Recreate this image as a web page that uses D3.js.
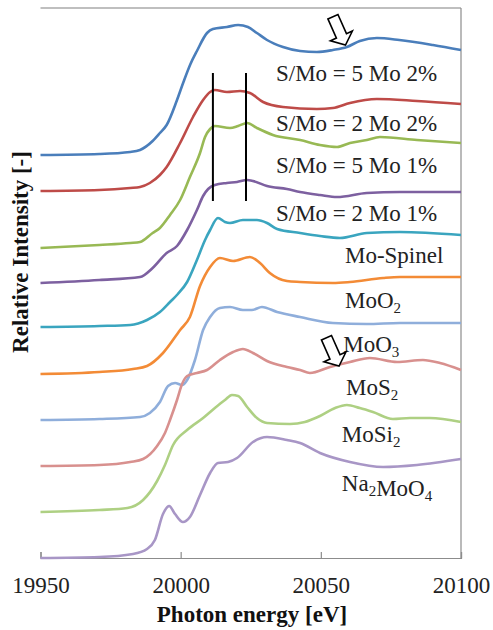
<!DOCTYPE html>
<html>
<head>
<meta charset="utf-8">
<script src="https://cdn.jsdelivr.net/npm/d3@7"></script>
<style>
  body { margin: 0; background: #fff; }
  svg text { font-family: "Liberation Serif", "Times New Roman", Times, serif; }
</style>
</head>
<body>
<svg id="chart" width="493" height="630"></svg>
<script>
// spectra: [photon energy eV, stacked relative intensity]
var s5Mo2 = [[19950,8.06],[19971,8.08],[19982,8.12],[19985.5,8.16],[19990,8.34],[19992.6,8.5],[19995,8.66],[19998.7,9.16],[20001,9.52],[20003.5,9.88],[20005.8,10.14],[20009.4,10.5],[20011.5,10.58],[20016.5,10.62],[20020.5,10.66],[20024,10.62],[20027.2,10.5],[20030.8,10.36],[20036.5,10.22],[20042.6,10.14],[20048.6,10.12],[20054.3,10.16],[20059.3,10.22],[20063.9,10.34],[20070,10.4],[20078,10.36],[20090,10.26],[20100,10.16]];
var s2Mo2 = [[19950,7.34],[19971,7.36],[19982,7.4],[19985.5,7.42],[19989,7.5],[19992.6,7.66],[19995,7.82],[19999.8,8.3],[20004.4,8.82],[20008,9.16],[20010.5,9.32],[20012.2,9.36],[20016.5,9.32],[20021.2,9.34],[20024.7,9.3],[20029.4,9.12],[20036.5,9.02],[20048.6,8.98],[20054.3,9.0],[20060.4,9.1],[20070,9.18],[20084.3,9.14],[20100,9.08]];
var s5Mo1 = [[19950,6.2],[19971,6.26],[19982,6.3],[19985.5,6.32],[19990,6.5],[19992.6,6.6],[19996.2,6.86],[19999.8,7.16],[20003.3,7.62],[20006.9,8.1],[20008.7,8.42],[20010.5,8.58],[20012.2,8.64],[20017.6,8.6],[20020.5,8.64],[20023.7,8.7],[20027.2,8.6],[20032.9,8.46],[20042.6,8.36],[20049.7,8.26],[20055.8,8.22],[20060.4,8.3],[20066.4,8.36],[20071.1,8.42],[20084.3,8.36],[20100,8.3]];
var s2Mo1 = [[19950,5.5],[19971,5.56],[19985.5,5.62],[19990,5.8],[19995,6.1],[19998.7,6.24],[20002.3,6.56],[20005.8,6.96],[20008,7.24],[20009.8,7.38],[20012.2,7.46],[20016.5,7.5],[20020.1,7.52],[20023.7,7.56],[20025.8,7.54],[20030.8,7.44],[20037.9,7.38],[20042.6,7.32],[20049.7,7.26],[20055.8,7.22],[20066.4,7.3],[20078.2,7.32],[20100,7.32]];
var spinel = [[19950,4.62],[19971,4.64],[19982,4.66],[19988,4.76],[19992.6,4.92],[19996.2,5.12],[19999,5.28],[20002.3,5.52],[20005.8,5.96],[20008.7,6.36],[20010.5,6.56],[20013.3,6.8],[20015.8,6.72],[20017.6,6.7],[20022.2,6.76],[20027.2,6.76],[20030.8,6.7],[20034.4,6.58],[20042.6,6.5],[20049.7,6.44],[20056.8,6.4],[20066.4,6.5],[20078.2,6.52],[20100,6.46]];
var moO2 = [[19950,3.68],[19971,3.72],[19983,3.78],[19988,3.84],[19993.7,4.1],[19999.8,4.56],[20003.3,4.82],[20006.9,5.44],[20010.5,5.82],[20014,6.0],[20018.7,5.94],[20024.7,6.02],[20028.3,5.9],[20031.8,5.7],[20037.9,5.54],[20042.6,5.52],[20054.3,5.5],[20060.4,5.52],[20072.2,5.6],[20078.2,5.62],[20100,5.62]];
var moO3 = [[19950,2.76],[19971,2.78],[19985.5,2.82],[19989,2.9],[19992.6,3.12],[19995.5,3.44],[19998,3.5],[20000.5,3.46],[20002.3,3.56],[20005.1,3.96],[20008,4.56],[20010.5,4.82],[20014,5.0],[20017.6,5.02],[20022.2,4.96],[20025.4,4.96],[20029,5.02],[20034.4,4.92],[20042.6,4.82],[20054.3,4.7],[20066.4,4.68],[20078.2,4.7],[20100,4.7]];
var moS2 = [[19950,1.84],[19971,1.86],[19982,1.92],[19986.6,1.98],[19991.6,2.24],[19994.4,2.5],[19996.2,2.76],[19998.7,3.16],[20000.5,3.48],[20002.3,3.64],[20005.8,3.7],[20009.4,3.76],[20014,3.96],[20018.7,4.12],[20022.2,4.18],[20025.8,4.1],[20030.8,3.94],[20037.9,3.82],[20042.6,3.76],[20046.1,3.7],[20053.3,3.82],[20060.4,3.92],[20067.5,4.0],[20077.2,3.92],[20086.4,3.96],[20092.5,3.9],[20100,3.76]];
var moSi2 = [[19950,0.92],[19971,0.96],[19981,1.0],[19986.6,1.16],[19991.6,1.54],[19994.4,1.86],[19997.3,2.26],[20002.3,2.56],[20008,2.8],[20012.2,3.0],[20015.8,3.16],[20018.3,3.26],[20020.5,3.24],[20023.7,3.02],[20027.2,2.8],[20030.8,2.7],[20039,2.68],[20044.3,2.72],[20049.7,2.84],[20055.1,3.0],[20059.3,3.06],[20063.9,3.0],[20068.6,2.92],[20075.7,2.78],[20081.8,2.8],[20088.9,2.8],[20100,2.72]];
var na2MoO4 = [[19950,0.0],[19971,0.02],[19983,0.08],[19988,0.18],[19990.8,0.36],[19993.7,0.88],[19995.9,1.04],[19998,0.88],[20000.8,0.72],[20003.3,0.82],[20006.9,1.26],[20010.5,1.7],[20013.3,1.9],[20016.9,1.92],[20020.1,2.0],[20025.8,2.32],[20030.8,2.42],[20037.9,2.36],[20042.6,2.3],[20049.7,2.1],[20060.4,1.92],[20072.2,1.82],[20084.3,1.86],[20100,1.98]];

var energyTicks = [19950, 20000, 20050, 20100];

// labels: pieces of [text, subscript] and where they sit (energy, baseline intensity)
var labelTexts = [
  [["S/Mo = 5 Mo 2%", ""]],
  [["S/Mo = 2 Mo 2%", ""]],
  [["S/Mo = 5 Mo 1%", ""]],
  [["S/Mo = 2 Mo 1%", ""]],
  [["Mo-Spinel", ""]],
  [["MoO", "2"]],
  [["MoO", "3"]],
  [["MoS", "2"]],
  [["MoSi", "2"]],
  [["Na", "2"], ["MoO", "4"]]
];
var labelE = [20034, 20034, 20034, 20034, 20058.6, 20058.6, 20058, 20059, 20057.5, 20057.5];
var labelI = [9.54, 8.54, 7.7, 6.74, 5.9, 5.0, 4.12, 3.26, 2.32, 1.34];

// two marker lines and two arrows
var markerE = [20011.5, 20023.3];
var markerRange = [7.14, 9.7];
var arrowTips = [[20058.8, 10.26], [20056.5, 3.84]];

var spectra = [s5Mo2, s2Mo2, s5Mo1, s2Mo1, spinel, moO2, moO3, moS2, moSi2, na2MoO4];
var colors = ["#4a7ebb", "#be4b48", "#98b954", "#7d60a0", "#3aa5bf",
              "#f38b36", "#8faedb", "#d8908e", "#aed083", "#a896c6"];

var serif = "Liberation Serif, Times New Roman, serif";
var svg = d3.select("#chart");
var x = d3.scaleLinear().domain([19950, 20100]).range([40.5, 461]);
var y = d3.scaleLinear().domain([0, 11]).range([558, 8]);

// frame: top and right border, bottom axis
svg.append("line").attr("x1", 40.5).attr("x2", 461).attr("y1", 8).attr("y2", 8)
  .attr("stroke", "#aaaaaa").attr("stroke-width", 1.5);
svg.append("line").attr("x1", 461).attr("x2", 461).attr("y1", 8).attr("y2", 558)
  .attr("stroke", "#8c8c8c").attr("stroke-width", 1.2);

var xAxis = svg.append("g")
  .attr("transform", "translate(0,558)")
  .attr("font-family", serif)
  .call(d3.axisBottom(x).tickValues(energyTicks).tickSize(-6).tickFormat(d3.format("d")));
xAxis.attr("font-family", serif);
xAxis.select(".domain").attr("stroke", "#8c8c8c").attr("stroke-width", 1.2);
xAxis.selectAll(".tick line").attr("stroke", "#8c8c8c").attr("stroke-width", 1.2);
xAxis.selectAll(".tick text")
  .attr("font-size", 23)
  .attr("fill", "#222")
  .attr("y", 0).attr("dy", 35);

var line = d3.line()
  .x(function(d) { return x(d[0]); })
  .y(function(d) { return y(d[1]); })
  .curve(d3.curveMonotoneX);

svg.selectAll(".spectrum")
  .data(spectra)
  .enter()
  .append("path")
  .attr("class", "spectrum")
  .attr("d", line)
  .attr("fill", "none")
  .attr("stroke", function(d, i) { return colors[i]; })
  .attr("stroke-width", 2.6)
  .attr("stroke-linejoin", "round");

// black vertical markers
svg.selectAll(".marker")
  .data(markerE)
  .enter()
  .append("line")
  .attr("x1", function(d) { return x(d); })
  .attr("x2", function(d) { return x(d); })
  .attr("y1", y(markerRange[1]))
  .attr("y2", y(markerRange[0]))
  .attr("stroke", "#000")
  .attr("stroke-width", 2);

// labels
labelTexts.forEach(function(parts, i) {
  var t = svg.append("text")
    .attr("x", x(labelE[i]))
    .attr("y", y(labelI[i]))
    .attr("font-family", serif)
    .attr("font-size", 23)
    .attr("fill", "#222");
  parts.forEach(function(p) {
    t.append("tspan").text(p[0]);
    if (p[1]) {
      t.append("tspan").attr("font-size", 15).attr("dy", 5).text(p[1]);
      t.append("tspan").attr("dy", -5).text("");
    }
  });
});

// outlined block arrows pointing down-right
var ang = Math.atan2(27, 12) * 180 / Math.PI - 90;
var arrowShape = [[-5.5, -31], [5.5, -31], [5.5, -10], [12, -10], [0, 0], [-12, -10], [-5.5, -10]];
svg.selectAll(".arrow")
  .data(arrowTips)
  .enter()
  .append("polygon")
  .attr("class", "arrow")
  .attr("points", arrowShape.map(function(p) { return p.join(","); }).join(" "))
  .attr("transform", function(d) {
    return "translate(" + x(d[0]) + "," + y(d[1]) + ") rotate(" + ang + ")";
  })
  .attr("fill", "#fff")
  .attr("stroke", "#000")
  .attr("stroke-width", 1.6)
  .attr("stroke-linejoin", "miter");

// axis titles
svg.append("text")
  .attr("x", 252).attr("y", 622)
  .attr("text-anchor", "middle")
  .attr("font-family", serif)
  .attr("font-size", 23).attr("font-weight", "bold").attr("fill", "#111")
  .text("Photon energy [eV]");

svg.append("text")
  .attr("transform", "translate(28,252) rotate(-90)")
  .attr("text-anchor", "middle")
  .attr("font-family", serif)
  .attr("font-size", 23).attr("font-weight", "bold").attr("fill", "#111")
  .text("Relative Intensity [-]");
</script>
</body>
</html>
